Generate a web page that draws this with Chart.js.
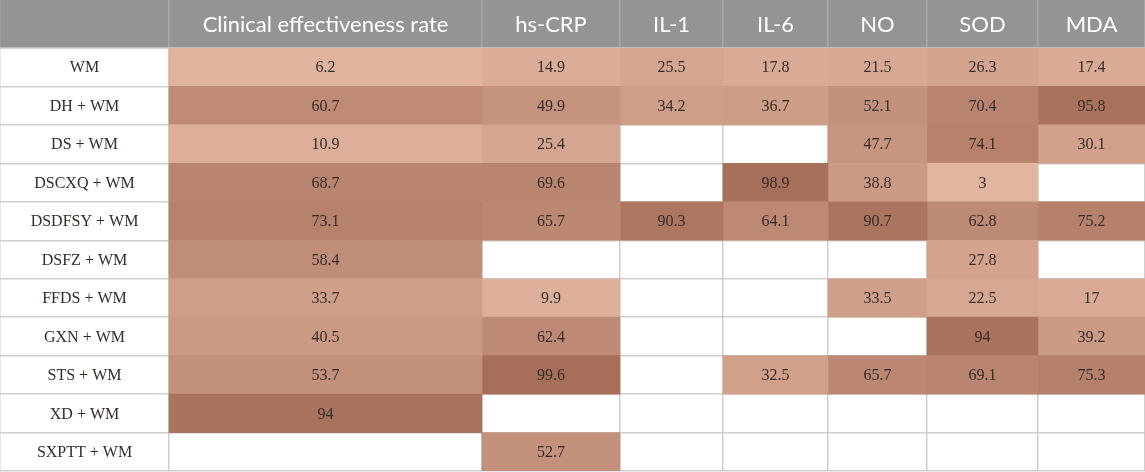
<!DOCTYPE html>
<html>
<head>
<meta charset="utf-8">
<script src="https://cdn.jsdelivr.net/npm/chart.js@4/dist/chart.umd.min.js"></script>
<style>
html,body{margin:0;padding:0;background:#fff;}
#wrap{width:1145px;height:472px;}
</style>
</head>
<body>
<div id="wrap"><canvas id="c" width="1145" height="472"></canvas></div>
<script>
// ---- data ----
const rows = ["WM","DH + WM","DS + WM","DSCXQ + WM","DSDFSY + WM","DSFZ + WM","FFDS + WM","GXN + WM","STS + WM","XD + WM","SXPTT + WM"];
const metrics = ["Clinical effectiveness rate","hs-CRP","IL-1","IL-6","NO","SOD","MDA"];
const clinical = [6.2, 60.7, 10.9, 68.7, 73.1, 58.4, 33.7, 40.5, 53.7, 94, null];
const hsCRP    = [14.9, 49.9, 25.4, 69.6, 65.7, null, 9.9, 62.4, 99.6, null, 52.7];
const il1      = [25.5, 34.2, null, null, 90.3, null, null, null, null, null, null];
const il6      = [17.8, 36.7, null, 98.9, 64.1, null, null, null, 32.5, null, null];
const no       = [21.5, 52.1, 47.7, 38.8, 90.7, null, 33.5, null, 65.7, null, null];
const sod      = [26.3, 70.4, 74.1, 3, 62.8, 27.8, 22.5, 94, 69.1, null, null];
const mda      = [17.4, 95.8, 30.1, null, 75.2, null, 17, 39.2, 75.3, null, null];
const series = [clinical, hsCRP, il1, il6, no, sod, mda];

// ---- layout (column edges in table units) ----
const colEdges = [0, 169, 482, 620, 723, 828, 927, 1038, 1145];
const headerH = 48;
const lo = [226,181,160], hi = [167,111,90];
const vmin = 3, vmax = 99.6;
function colorFor(v){
  const t = Math.max(0, Math.min(1, (v - vmin) / (vmax - vmin)));
  const c = lo.map((a,i)=>Math.round(a + (hi[i]-a)*t));
  return `rgb(${c[0]},${c[1]},${c[2]})`;
}

const datasets = series.map((vals, k) => ({
  label: metrics[k],
  data: vals.map(v => v == null ? null : [colEdges[k+1], colEdges[k+2]]),
  backgroundColor: vals.map(v => v == null ? 'transparent' : colorFor(v)),
  borderWidth: 0,
  barPercentage: 1,
  categoryPercentage: 1,
  grouped: false
}));

const textPlugin = {
  id: 'tableText',
  beforeDraw(chart){
    const ctx = chart.ctx;
    ctx.save();
    ctx.fillStyle = '#ffffff';
    ctx.fillRect(0,0,chart.width,chart.height);
    ctx.fillStyle = '#949494';
    ctx.fillRect(0,0,chart.width,chart.chartArea.top);
    ctx.restore();
  },
  afterDraw(chart){
    const ctx = chart.ctx;
    const xs = chart.scales.x, ys = chart.scales.y;
    ctx.save();
    ctx.textAlign = 'center';
    ctx.textBaseline = 'middle';
    // header
    ctx.fillStyle = '#ffffff';
    ctx.font = '22px Lato';
    metrics.forEach((m,k) => {
      const cx = (xs.getPixelForValue(colEdges[k+1]) + xs.getPixelForValue(colEdges[k+2])) / 2;
      ctx.fillText(m, cx, chart.chartArea.top/2 + 1);
    });
    // row labels & values
    ctx.fillStyle = '#352c29';
    ctx.font = '16px "Liberation Serif"';
    rows.forEach((r,i) => {
      const cy = ys.getPixelForValue(i) + 1;
      const c0 = (xs.getPixelForValue(colEdges[0]) + xs.getPixelForValue(colEdges[1])) / 2;
      ctx.fillText(r, c0, cy);
      series.forEach((vals,k) => {
        const v = vals[i];
        if (v == null) return;
        const cx = (xs.getPixelForValue(colEdges[k+1]) + xs.getPixelForValue(colEdges[k+2])) / 2;
        ctx.fillText(String(v), cx, cy);
      });
    });
    ctx.restore();
  }
};

new Chart(document.getElementById('c'), {
  type: 'bar',
  data: { labels: rows, datasets },
  options: {
    indexAxis: 'y',
    responsive: false,
    animation: false,
    devicePixelRatio: 1,
    layout: { padding: { top: 0, left: 0, right: 0, bottom: 1 } },
    plugins: { legend: { display: false }, tooltip: { enabled: false } },
    scales: {
      x: {
        type: 'linear', position: 'top', min: colEdges[0], max: colEdges[colEdges.length-1],
        z: 1,
        afterBuildTicks: s => { s.ticks = colEdges.map(v => ({ value: v })); },
        afterFit: s => { s.height = headerH; },
        ticks: { display: false },
        grid: { color: 'rgba(195,195,195,0.8)', lineWidth: 1.5, drawTicks: true, tickLength: headerH, tickColor: '#a7a7a7', tickWidth: 1.5 },
        border: { display: true, color: '#bdbdbd', width: 1.5 }
      },
      y: {
        type: 'category', z: 1,
        afterFit: s => { s.width = 0; },
        ticks: { display: false },
        grid: { offset: true, color: 'rgba(195,195,195,0.8)', lineWidth: 1.5, drawTicks: false },
        border: { display: false }
      }
    }
  },
  plugins: [textPlugin]
});
</script>
</body>
</html>
